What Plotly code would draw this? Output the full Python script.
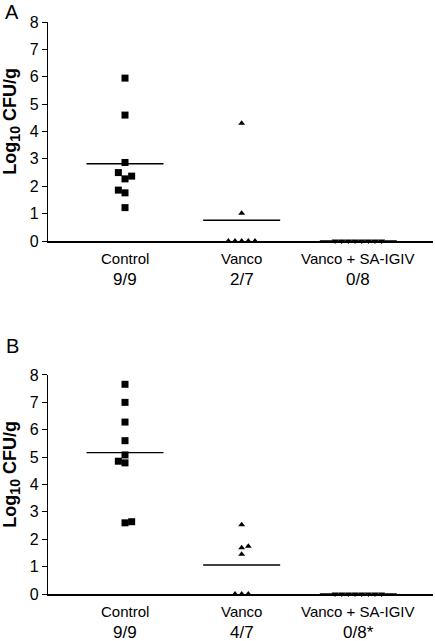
import plotly.graph_objects as go

categories = ["Control", "Vanco", "Vanco + SA-IGIV"]
fractions_a = ["9/9", "2/7", "0/8"]
fractions_b = ["9/9", "4/7", "0/8*"]

# Panel A values (log10 CFU/g)
a_control = [5.95, 4.6, 2.87, 2.5, 2.37, 2.27, 1.86, 1.76, 1.22]
a_vanco = [4.3, 1.01, 0, 0, 0, 0, 0]
a_sa = [0, 0, 0, 0, 0, 0, 0, 0]

# Panel B values
b_control = [7.66, 7.0, 6.28, 5.6, 5.08, 4.85, 4.79, 2.6, 2.64]
b_vanco = [2.53, 1.74, 1.69, 1.45, 0, 0, 0]
b_sa = [0, 0, 0, 0, 0, 0, 0, 0]

# horizontal jitter offsets (category units), layout only
J = 0.057
a_control_off = [0, 0, 0, -J, J, 0, -J, 0, 0]
a_vanco_off = [0, 0, -2 * J, -J, 0, J, 2 * J]
sa_off = [(i - 3.5) * J for i in range(8)]
b_control_off = [0, 0, 0, 0, 0, -J, 0, 0, J]
b_vanco_off = [0, J, 0, 0, -J, 0, J]

FONT = "Liberation Sans, Arial, sans-serif"
fig = go.Figure()

symbols = ["square", "triangle-up", "triangle-down"]
sizes = [7, 6, 6]

panels = [
    ("x", "y", [a_control, a_vanco, a_sa], [a_control_off, a_vanco_off, sa_off], fractions_a),
    ("x2", "y2", [b_control, b_vanco, b_sa], [b_control_off, b_vanco_off, sa_off], fractions_b),
]

annotations = []
for xa, ya, groups, offs, fracs in panels:
    for i, (vals, off) in enumerate(zip(groups, offs)):
        pos = i + 1
        fig.add_trace(go.Scatter(
            x=[pos + o for o in off], y=vals, mode="markers",
            marker=dict(symbol=symbols[i], size=sizes[i], color="black", line=dict(width=0)),
            xaxis=xa, yaxis=ya, cliponaxis=False, showlegend=False))
        m = sum(vals) / len(vals)
        fig.add_trace(go.Scatter(
            x=[pos - 0.33, pos + 0.33], y=[m, m], mode="lines",
            line=dict(color="black", width=1.3),
            xaxis=xa, yaxis=ya, cliponaxis=False, showlegend=False))
        annotations.append(dict(x=pos, y=0, xref=xa, yref=ya, text=categories[i],
                                showarrow=False, yshift=-17, yanchor="middle",
                                font=dict(family=FONT, size=15, color="black")))
        annotations.append(dict(x=pos, y=0, xref=xa, yref=ya, text=fracs[i],
                                showarrow=False, yshift=-38, yanchor="middle",
                                font=dict(family=FONT, size=17, color="black")))
    annotations.append(dict(x=-0.0935, y=4.36, xref="paper", yref=ya,
                            text="<b>Log<sub><span style='font-size:14px'>10</span></sub> CFU/g</b>",
                            textangle=-90,
                            showarrow=False, xanchor="center", yanchor="middle",
                            font=dict(family=FONT, size=18, color="black")))

annotations.append(dict(x=-0.0935, y=1.0175, xref="paper", yref="paper", text="A",
                        showarrow=False, xanchor="center", yanchor="middle",
                        font=dict(family=FONT, size=20, color="black")))
annotations.append(dict(x=-0.0935, y=0.4336, xref="paper", yref="paper", text="B",
                        showarrow=False, xanchor="center", yanchor="middle",
                        font=dict(family=FONT, size=20, color="black")))

xcommon = dict(range=[0.34, 3.64], showline=True, linecolor="black", linewidth=1.5,
               showgrid=False, zeroline=False, showticklabels=False, ticks="")
ycommon = dict(range=[0, 8], tickvals=list(range(9)), showline=True, linecolor="black",
               linewidth=1.3, showgrid=False, zeroline=False, ticks="outside",
               ticklen=5, tickwidth=1.3, tickcolor="black",
               tickfont=dict(family=FONT, size=16, color="black"))

fig.update_layout(
    width=435, height=641,
    margin=dict(l=48, r=2, t=22, b=47),
    paper_bgcolor="white", plot_bgcolor="white",
    xaxis=dict(domain=[0, 1], anchor="y", **xcommon),
    yaxis=dict(domain=[0.6171, 1], anchor="x", **ycommon),
    xaxis2=dict(domain=[0, 1], anchor="y2", **xcommon),
    yaxis2=dict(domain=[0, 0.3829], anchor="x2", **ycommon),
    annotations=annotations,
    font=dict(family=FONT, color="black"),
)

fig.write_html("out.html", config={"displayModeBar": False},
               post_script="document.body.style.margin='0';document.body.style.overflow='hidden';")
